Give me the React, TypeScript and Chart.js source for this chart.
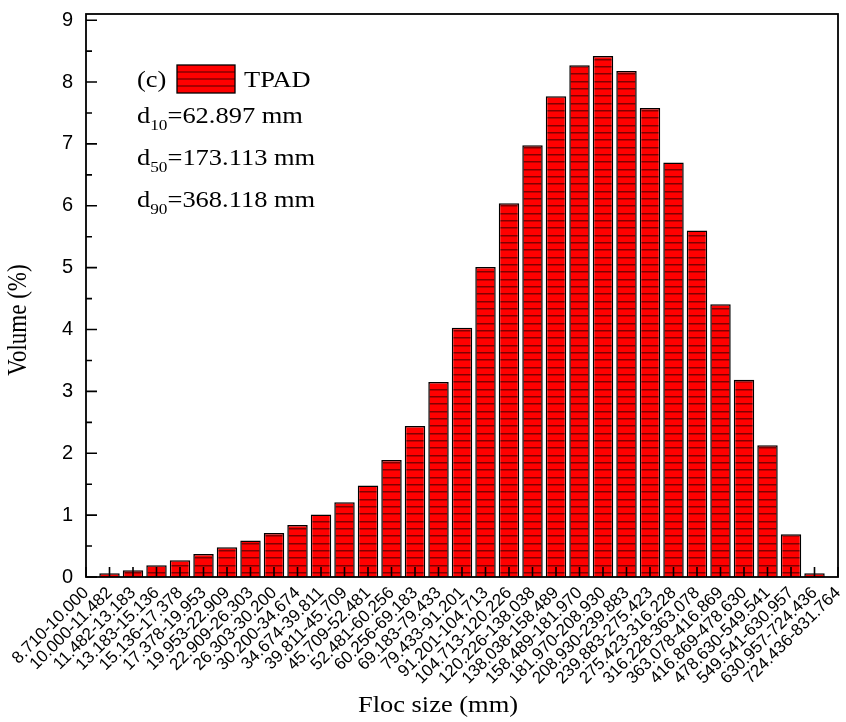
import React, { useEffect, useRef } from 'react';
import { Chart, registerables } from 'chart.js';

Chart.register(...registerables);

// ---- data ----
const flocSizeLabels: string[] = [
  '8.710-10.000', '10.000-11.482', '11.482-13.183', '13.183-15.136', '15.136-17.378',
  '17.378-19.953', '19.953-22.909', '22.909-26.303', '26.303-30.200', '30.200-34.674',
  '34.674-39.811', '39.811-45.709', '45.709-52.481', '52.481-60.256', '60.256-69.183',
  '69.183-79.433', '79.433-91.201', '91.201-104.713', '104.713-120.226', '120.226-138.038',
  '138.038-158.489', '158.489-181.970', '181.970-208.930', '208.930-239.883', '239.883-275.423',
  '275.423-316.228', '316.228-363.078', '363.078-416.869', '416.869-478.630', '478.630-549.541',
  '549.541-630.957', '630.957-724.436', '724.436-831.764',
];

const volumePercent: (number | null)[] = [
  null, 0.06, 0.11, 0.19, 0.27, 0.37, 0.48, 0.59, 0.71, 0.84,
  1.01, 1.21, 1.48, 1.89, 2.44, 3.15, 4.03, 5.01, 6.04, 6.98,
  7.77, 8.27, 8.42, 8.18, 7.58, 6.70, 5.60, 4.41, 3.19, 2.13,
  0.69, 0.06, null,
];

const yMajorTicks: number[] = [0, 1, 2, 3, 4, 5, 6, 7, 8, 9];
const yMinorTicks: number[] = [0.5, 1.5, 2.5, 3.5, 4.5, 5.5, 6.5, 7.5, 8.5];

const seriesName = 'TPAD';
const panelTag = '(c)';
const dSubscripts: string[] = ['10', '50', '90'];
const dValues: string[] = ['62.897', '173.113', '368.118'];

const xTitle = 'Floc size (mm)';
const yTitle = 'Volume (%)';

const SERIF = '"Liberation Serif", "Times New Roman", serif';
const SANS = '"Liberation Sans", Arial, sans-serif';
const STRETCH = 1.15;

function makeHatch(): CanvasPattern | string {
  const c = document.createElement('canvas');
  c.width = 8;
  c.height = 22;
  const g = c.getContext('2d');
  if (!g) return '#ff0000';
  g.fillStyle = '#ff0000';
  g.fillRect(0, 0, 8, 22);
  g.fillStyle = '#800000';
  [0, 7, 15].forEach((y) => g.fillRect(0, y, 8, 1.5));
  const p = g.createPattern(c, 'repeat');
  return p || '#ff0000';
}

function stretchedText(
  ctx: CanvasRenderingContext2D,
  text: string,
  x: number,
  y: number,
  font: string,
  align: CanvasTextAlign = 'left',
): number {
  ctx.save();
  ctx.font = font;
  ctx.textAlign = align;
  ctx.textBaseline = 'alphabetic';
  ctx.translate(x, y);
  ctx.scale(STRETCH, 1);
  ctx.fillText(text, 0, 0);
  const w = ctx.measureText(text).width * STRETCH;
  ctx.restore();
  return w;
}

const decorPlugin = {
  id: 'decor',
  afterDatasetsDraw(chart: any) {
    const { ctx, chartArea } = chart;
    const { left, right, top, bottom } = chartArea;
    const xs = chart.scales.x;
    const ys = chart.scales.y;
    ctx.save();
    ctx.strokeStyle = '#000';
    ctx.lineWidth = 1.6;
    // inner x ticks
    ctx.beginPath();
    flocSizeLabels.forEach((_, i) => {
      const px = xs.getPixelForValue(i);
      ctx.moveTo(px, bottom);
      ctx.lineTo(px, bottom - 10);
    });
    // inner y ticks
    yMajorTicks.forEach((v) => {
      const py = ys.getPixelForValue(v);
      ctx.moveTo(left, py);
      ctx.lineTo(left + 11, py);
    });
    yMinorTicks.forEach((v) => {
      const py = ys.getPixelForValue(v);
      ctx.moveTo(left, py);
      ctx.lineTo(left + 6, py);
    });
    ctx.stroke();
    // frame
    ctx.lineWidth = 1.8;
    ctx.strokeRect(left, top, right - left, bottom - top);

    // legend
    ctx.fillStyle = '#000';
    const f = `23px ${SERIF}`;
    const fs = `15px ${SERIF}`;
    stretchedText(ctx, panelTag, left + 51, top + 73, f);
    const bx = left + 91, by = top + 51, bw = 58, bh = 28;
    ctx.fillStyle = '#ff0000';
    ctx.fillRect(bx, by, bw, bh);
    ctx.fillStyle = '#800000';
    [7, 14, 21].forEach((dy) => ctx.fillRect(bx, by + dy - 0.7, bw, 1.4));
    ctx.lineWidth = 1.3;
    ctx.strokeStyle = '#000';
    ctx.strokeRect(bx, by, bw, bh);
    ctx.fillStyle = '#000';
    stretchedText(ctx, seriesName, bx + bw + 9, top + 73, f);
    dSubscripts.forEach((sub, i) => {
      const base = top + 109 + i * 42;
      let x = left + 51;
      x += stretchedText(ctx, 'd', x, base, f);
      x += stretchedText(ctx, sub, x, base + 7, fs);
      stretchedText(ctx, `=${dValues[i]} mm`, x, base, f);
    });

    // axis titles
    stretchedText(ctx, xTitle, 438, 712, f, 'center');
    ctx.save();
    ctx.font = f;
    ctx.textAlign = 'center';
    ctx.textBaseline = 'middle';
    ctx.translate(19, 320);
    ctx.rotate(-Math.PI / 2);
    ctx.scale(1, STRETCH);
    ctx.fillText(yTitle, 0, 0);
    ctx.restore();
    ctx.restore();
  },
};

export default function App() {
  const ref = useRef<HTMLCanvasElement | null>(null);
  useEffect(() => {
    if (!ref.current) return;
    const hatch = makeHatch();
    const points = volumePercent
      .map((v, i) => (v === null ? null : { x: i, y: v }))
      .filter((p) => p !== null) as { x: number; y: number }[];
    const chart = new Chart(ref.current, {
      type: 'bar',
      data: {
        datasets: [
          {
            label: seriesName,
            data: points as any,
            backgroundColor: hatch as any,
            borderColor: '#000',
            borderWidth: 1.5,
            categoryPercentage: 1,
            barPercentage: 0.87,
          },
        ],
      },
      options: {
        animation: false,
        responsive: true,
        maintainAspectRatio: false,
        layout: { padding: { left: 0, top: 14, right: 8, bottom: 0 } },
        plugins: {
          legend: { display: false },
          tooltip: { enabled: false },
        },
        scales: {
          x: {
            type: 'linear',
            min: 0,
            max: 32,
            offset: false,
            grid: { display: false, drawTicks: false, offset: false },
            border: { display: false },
            afterBuildTicks: (s: any) => {
              s.ticks = flocSizeLabels.map((_, i) => ({ value: i }));
            },
            afterFit: (s: any) => {
              s.height = 145;
              s.paddingLeft = 0;
              s.paddingRight = 0;
            },
            ticks: {
              autoSkip: false,
              minRotation: 45,
              maxRotation: 45,
              padding: 6,
              color: '#000',
              font: { family: SANS, size: 17 },
              callback: (v: any) => flocSizeLabels[Number(v)] ?? '',
            },
          },
          y: {
            type: 'linear',
            min: 0,
            max: 9.1,
            grid: { display: false, drawTicks: false },
            border: { display: false },
            afterBuildTicks: (s: any) => {
              s.ticks = yMajorTicks.map((v) => ({ value: v }));
            },
            afterFit: (s: any) => {
              s.width = 86;
              s.paddingTop = 0;
              s.paddingBottom = 0;
            },
            ticks: {
              padding: 13,
              color: '#000',
              font: { family: SANS, size: 20 },
              callback: (v: any) => String(v),
            },
          },
        },
      } as any,
      plugins: [decorPlugin],
    });
    return () => chart.destroy();
  }, []);

  return (
    <div style={{ position: 'absolute', left: 0, top: 0, width: 846, height: 722, background: '#fff' }}>
      <canvas ref={ref} />
    </div>
  );
}
